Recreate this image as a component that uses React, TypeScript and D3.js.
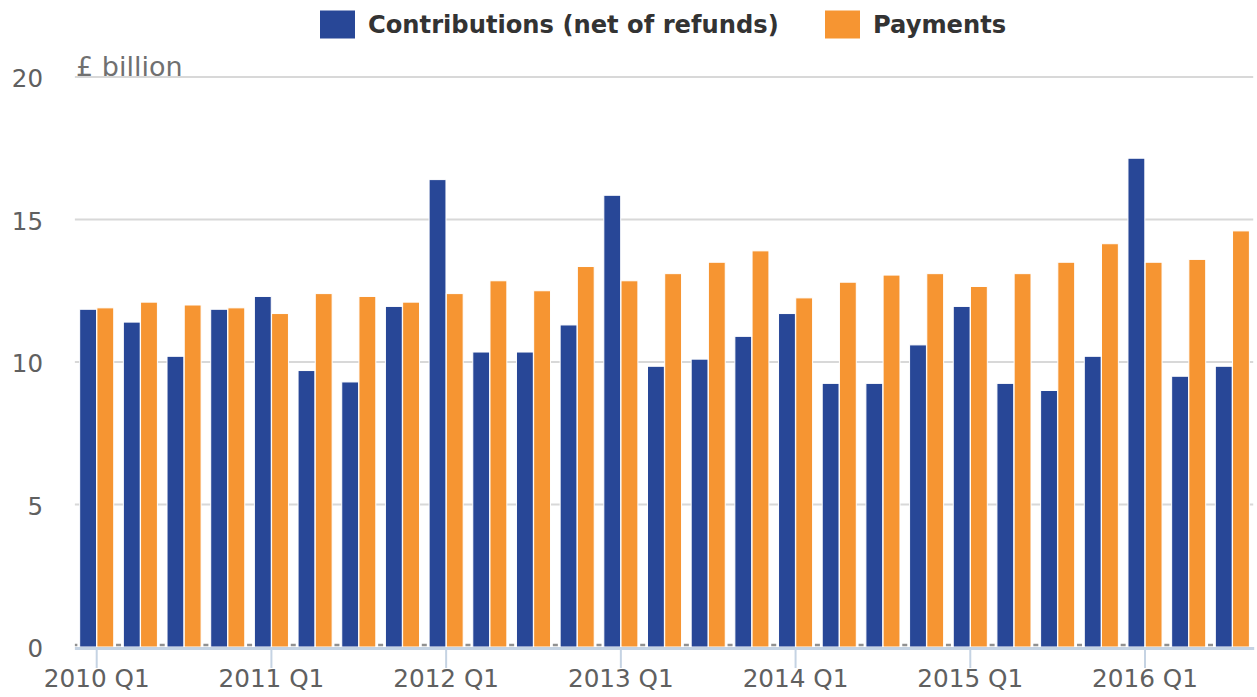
import React from "react";
import * as d3 from "d3";

const quarters: string[] = [];
const years = [2010, 2011, 2012, 2013, 2014, 2015, 2016];
years.forEach((y) => {
  ["Q1", "Q2", "Q3", "Q4"].forEach((q) => quarters.push(`${y} ${q}`));
});
const categories = quarters.slice(0, 27);

const contributions = [
  11.85, 11.4, 10.2, 11.85, 12.3, 9.7, 9.3, 11.95, 16.4, 10.35, 10.35, 11.3,
  15.85, 9.85, 10.1, 10.9, 11.7, 9.25, 9.25, 10.6, 11.95, 9.25, 9.0, 10.2,
  17.15, 9.5, 9.85,
];
const payments = [
  11.9, 12.1, 12.0, 11.9, 11.7, 12.4, 12.3, 12.1, 12.4, 12.85, 12.5, 13.35,
  12.85, 13.1, 13.5, 13.9, 12.25, 12.8, 13.05, 13.1, 12.65, 13.1, 13.5, 14.15,
  13.5, 13.6, 14.6,
];
const seriesNames = ["Contributions (net of refunds)", "Payments"];
const colors = ["#284797", "#f69532"];
const yTicks = [0, 5, 10, 15, 20];

export default function App() {
  const W = 1257;
  const H = 697;
  const left = 74.86;
  const right = 1254.2;
  const x0 = d3.scaleBand<string>().domain(categories).range([left, right]).padding(0);
  const step = x0.step();
  const x1 = d3
    .scaleBand<string>()
    .domain(seriesNames)
    .range([step * 0.11, step * 0.89])
    .paddingInner(0.02);
  const y = d3.scaleLinear().domain([0, 20]).range([647, 77]);
  const font = "DejaVu Sans, sans-serif";
  const data = [contributions, payments];

  const firstQ = categories.filter((c) => c.endsWith("Q1"));

  return (
    <svg
      width={W}
      height={H}
      style={{ position: "absolute", left: 0, top: 0, display: "block" }}
      fontFamily={font}
    >
      <rect width={W} height={H} fill="#ffffff" />
      {yTicks
        .filter((t) => t > 0)
        .map((t) => (
          <line
            key={t}
            x1={left}
            x2={right - 1}
            y1={y(t)}
            y2={y(t)}
            stroke="#d8d8d8"
            strokeWidth={2}
          />
        ))}
      {yTicks.map((t) => (
        <text
          key={t}
          x={43}
          y={y(t) + 10}
          textAnchor="end"
          fontSize={24.5}
          fill="#606060"
        >
          {t}
        </text>
      ))}
      <text x={76} y={76} fontSize={27} fill="#707070">
        £ billion
      </text>
      {categories.map((c, i) => {
        const bx = x0(c)!;
        return (
          <line
            key={"d" + i}
            x1={Math.max(left, bx - 2.5)}
            x2={bx + 2.5}
            y1={645}
            y2={645}
            stroke="#909090"
            strokeWidth={2.5}
          />
        );
      })}
      {categories.map((c, i) => (
        <g key={c} transform={`translate(${x0(c)},0)`}>
          {seriesNames.map((s, j) => {
            const v = data[j][i];
            return (
              <rect
                key={s}
                x={x1(s)}
                y={y(v)}
                width={x1.bandwidth()}
                height={y(0) - y(v)}
                fill={colors[j]}
                stroke="#ffffff"
                strokeWidth={1}
              />
            );
          })}
        </g>
      ))}
      <line x1={left} x2={right} y1={648.5} y2={648.5} stroke="#c5d3e3" strokeWidth={3} />
      {firstQ.map((c) => {
        const cx = x0(c)! + step / 2;
        return (
          <g key={c}>
            <line x1={cx} x2={cx} y1={648} y2={668} stroke="#c5d3e3" strokeWidth={2} />
            <text x={cx} y={687} textAnchor="middle" fontSize={24.7} fill="#606060">
              {c}
            </text>
          </g>
        );
      })}
      <rect x={320} y={10.5} width={35} height={28} fill={colors[0]} />
      <text x={368} y={33} fontSize={24.2} fontWeight="bold" fill="#333333">
        {seriesNames[0]}
      </text>
      <rect x={825} y={10.5} width={35} height={28} fill={colors[1]} />
      <text x={873} y={33} fontSize={24.2} fontWeight="bold" fill="#333333">
        {seriesNames[1]}
      </text>
    </svg>
  );
}
